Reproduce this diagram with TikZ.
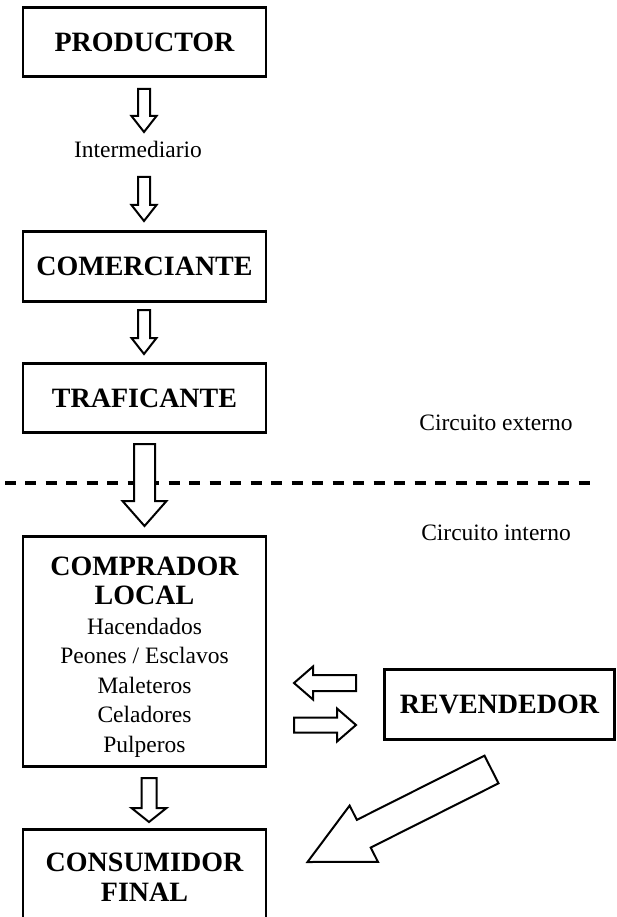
\documentclass[tikz,border=0pt]{standalone}
\usepackage{fontspec}
\setmainfont{Liberation Serif}
\usetikzlibrary{calc}
\tikzset{
  box/.style={draw, line width=2.6pt, minimum width=243pt, inner sep=0pt,
    align=center, font=\bfseries\fontsize{28}{29.5}\selectfont},
  boxtext/.style={inner sep=0pt, align=center, font=\bfseries\fontsize{28}{29.5}\selectfont},
  blk/.style={draw, line width=2pt, fill=white, line join=miter},
  lbl/.style={font=\fontsize{23.5}{29.5}\selectfont, anchor=base, inner sep=0pt},
  divider/.style={line width=4.5pt, dash pattern=on 11pt off 9.5pt, dash phase=0.5pt},
}
\newcommand\sm[1]{{\mdseries\fontsize{23.5}{29.5}\selectfont #1}}
% block arrow: from, to, shaft half width, head half width, head length
\newcommand\blkarrow[5]{%
  \coordinate (hb) at ($(#2)!#5!(#1)$);
  \draw[blk] ($(#1)!#3!90:(#2)$) -- ($(hb)!#3!-90:(#1)$) -- ($(hb)!#4!-90:(#1)$)
    -- (#2) -- ($(hb)!#4!90:(#1)$) -- ($(hb)!#3!90:(#1)$) -- ($(#1)!#3!-90:(#2)$) -- cycle;}
\begin{document}
\begin{tikzpicture}[x=1pt,y=-1pt]
\clip (0,0) rectangle (617,917);
\fill[white] (0,0) rectangle (617,917);

% boxes
\node[box, minimum height=69.4pt] (prod) at (144.5,42) {PRODUCTOR};
\node[box, minimum height=70.4pt] (com) at (144.5,266.5) {COMERCIANTE};
\node[box, minimum height=69.4pt] (traf) at (144.5,398) {TRAFICANTE};
\node[box, minimum height=230.4pt] (comp) at (144.5,651.5) {};
\node[boxtext] (comptxt) at (144.5,657)
  {COMPRADOR\\LOCAL\\\sm{Hacendados}\\\sm{Peones / Esclavos}\\\sm{Maleteros}\\\sm{Celadores}\\\sm{Pulperos}};
\node[box, minimum height=95pt] (cons) at (144.5,877) {CONSUMIDOR\\FINAL};
\node[box, minimum width=230.4pt, minimum height=70.4pt] (rev) at (499.5,704.5) {REVENDEDOR};

% labels
\node[lbl] (inter) at (138,158) {Intermediario};
\node[lbl] (ext) at (496,430) {Circuito externo};
\node[lbl] (int) at (496,540) {Circuito interno};

% dashed divider
\coordinate (dl) at (5,483);
\coordinate (dr) at (591,483);
\draw[divider] (dl) -- (dr);

% arrow end points
\coordinate (a1s) at (144,89);   \coordinate (a1e) at (144,132);
\coordinate (a2s) at (144,177);  \coordinate (a2e) at (144,221);
\coordinate (a3s) at (144,310);  \coordinate (a3e) at (144,354);
\coordinate (a4s) at (144.5,444);\coordinate (a4e) at (144.5,526);
\coordinate (a5s) at (149,778);  \coordinate (a5e) at (149,822);
\coordinate (a6s) at (356,683);  \coordinate (a6e) at (294,683);
\coordinate (a7s) at (294,725);  \coordinate (a7e) at (356,725);
\coordinate (a8s) at (491.5,769.5); \coordinate (a8e) at (307.5,862);

\blkarrow{a1s}{a1e}{6pt}{12.5pt}{16pt}
\blkarrow{a2s}{a2e}{6pt}{12.5pt}{16pt}
\blkarrow{a3s}{a3e}{6pt}{12.5pt}{16pt}
\blkarrow{a4s}{a4e}{10.5pt}{22pt}{25pt}
\blkarrow{a5s}{a5e}{7.5pt}{17.5pt}{14pt}
\blkarrow{a6s}{a6e}{8pt}{16.5pt}{19pt}
\blkarrow{a7s}{a7e}{7.5pt}{16.5pt}{19pt}
\blkarrow{a8s}{a8e}{15.5pt}{31.5pt}{63pt}
\end{tikzpicture}
\end{document}
